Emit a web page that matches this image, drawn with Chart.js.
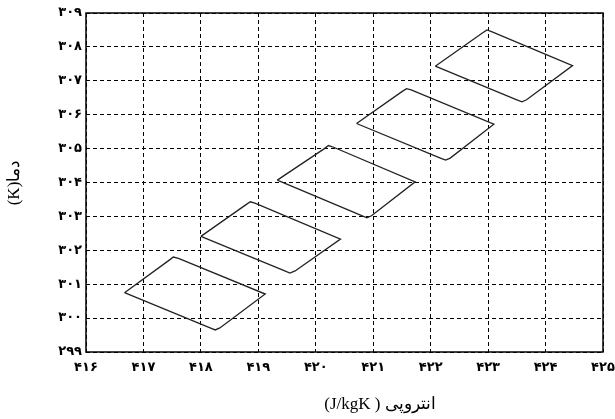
<!DOCTYPE html>
<html>
<head>
<meta charset="utf-8">
<script src="https://cdn.jsdelivr.net/npm/chart.js@4"></script>
<style>
    body { margin: 0; background: #fff; }
    canvas { display: block; }
</style>
</head>
<body>
<canvas id="loopChart" width="615" height="419"></canvas>
<script>

/// DATA ///

// Each loop is traced corner by corner: left, top (rounded), right, bottom (rounded), back to left
const loop1X = [416.67, 417.45, 417.52, 417.61, 419.12, 418.33, 418.25, 418.16, 416.67];
const loop1Y = [300.75, 301.71, 301.80, 301.76, 300.71, 299.71, 299.65, 299.71, 300.75];

const loop2X = [418.00, 418.78, 418.86, 418.94, 420.43, 419.64, 419.55, 419.46, 418.00];
const loop2Y = [302.41, 303.34, 303.43, 303.39, 302.33, 301.39, 301.33, 301.39, 302.41];

const loop3X = [419.33, 420.15, 420.22, 420.31, 421.73, 420.97, 420.89, 420.80, 419.33];
const loop3Y = [304.07, 305.00, 305.09, 305.04, 304.02, 303.02, 302.96, 303.02, 304.07];

const loop4X = [420.71, 421.50, 421.58, 421.66, 423.10, 422.34, 422.26, 422.17, 420.71];
const loop4Y = [305.74, 306.68, 306.77, 306.73, 305.72, 304.72, 304.66, 304.72, 305.74];

const loop5X = [422.08, 422.90, 422.98, 423.06, 424.47, 423.67, 423.59, 423.50, 422.08];
const loop5Y = [307.43, 308.41, 308.50, 308.45, 307.45, 306.44, 306.38, 306.44, 307.43];

const xTickValues = [416, 417, 418, 419, 420, 421, 422, 423, 424, 425];
const xTickLabels = ['۴۱۶', '۴۱۷', '۴۱۸', '۴۱۹', '۴۲۰', '۴۲۱', '۴۲۲', '۴۲۳', '۴۲۴', '۴۲۵'];
const yTickValues = [299, 300, 301, 302, 303, 304, 305, 306, 307, 308, 309];
const yTickLabels = ['۲۹۹', '۳۰۰', '۳۰۱', '۳۰۲', '۳۰۳', '۳۰۴', '۳۰۵', '۳۰۶', '۳۰۷', '۳۰۸', '۳۰۹'];

const xTitle = '(J/kgK ) انتروپی';
const yTitle = '(K)دما';


/// CHART ///

function toPoints(xs, ys) {
    return xs.map((x, i) => ({ x: x, y: ys[i] }));
}

const loops = [[loop1X, loop1Y], [loop2X, loop2Y], [loop3X, loop3Y], [loop4X, loop4Y], [loop5X, loop5Y]];

const datasets = loops.map(l => ({
    data: toPoints(l[0], l[1]),
    showLine: true,
    borderColor: '#222',
    borderWidth: 1.3,
    pointRadius: 0,
    tension: 0,
    fill: false
}));

// Frame around the plot plus the two axis titles
const framePlugin = {
    id: 'frame',
    afterDraw: function(chart) {
        const ctx = chart.ctx;
        const a = chart.chartArea;
        ctx.save();
        ctx.strokeStyle = '#000';
        ctx.lineWidth = 1.5;
        ctx.setLineDash([]);
        ctx.strokeRect(a.left, a.top, a.right - a.left, a.bottom - a.top);

        ctx.fillStyle = '#000';
        ctx.font = '17px "Liberation Serif", "DejaVu Serif", serif';
        ctx.textAlign = 'center';
        ctx.textBaseline = 'middle';
        ctx.fillText(xTitle, a.left + 294, 405);

        ctx.translate(15, (a.top + a.bottom) / 2);
        ctx.rotate(-Math.PI / 2);
        ctx.fillText(yTitle, 0, 0);
        ctx.restore();
    }
};

const gridStyle = {
    color: '#000',
    lineWidth: 1,
    drawTicks: false
};

const config = {
    type: 'scatter',
    data: { datasets: datasets },
    plugins: [framePlugin],
    options: {
        responsive: false,
        animation: false,
        devicePixelRatio: 1,
        layout: { padding: { left: 0, right: 12, top: 13, bottom: 0 } },
        scales: {
            x: {
                type: 'linear',
                min: 416,
                max: 425,
                afterBuildTicks: scale => { scale.ticks = xTickValues.map(v => ({ value: v })); },
                afterFit: scale => {
                    scale.height = 67;
                    scale.paddingLeft = 0;
                    scale.paddingRight = 0;
                },
                grid: gridStyle,
                border: { display: false, dash: [4, 3] },
                ticks: {
                    color: '#000',
                    padding: 8,
                    maxRotation: 0,
                    font: { family: 'DejaVu Sans', size: 13, weight: 'bold' },
                    callback: (v) => xTickLabels[xTickValues.indexOf(v)]
                }
            },
            y: {
                type: 'linear',
                min: 299,
                max: 309,
                afterBuildTicks: scale => { scale.ticks = yTickValues.map(v => ({ value: v })); },
                afterFit: scale => {
                    scale.width = 86;
                    scale.paddingTop = 0;
                    scale.paddingBottom = 0;
                },
                grid: gridStyle,
                border: { display: false, dash: [4, 3] },
                ticks: {
                    color: '#000',
                    padding: 4,
                    font: { family: 'DejaVu Sans', size: 13, weight: 'bold' },
                    callback: (v) => yTickLabels[yTickValues.indexOf(v)]
                }
            }
        },
        plugins: {
            legend: { display: false },
            tooltip: { enabled: false }
        }
    }
};

const myChart = new Chart(document.getElementById('loopChart').getContext('2d'), config);
</script>
</body>
</html>
